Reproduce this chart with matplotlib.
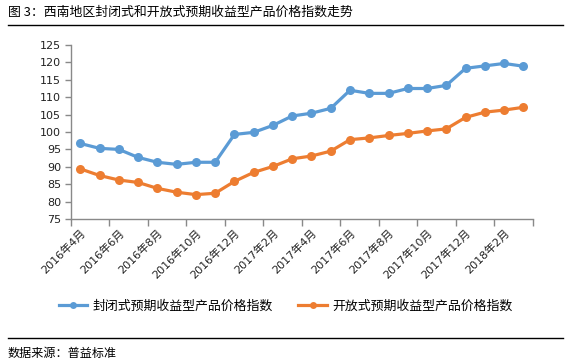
import matplotlib
matplotlib.use("Agg")
import matplotlib.pyplot as plt
from matplotlib.lines import Line2D

plt.rcParams['font.family'] = ['Noto Sans CJK SC', 'DejaVu Sans']

# ---------------- Data ----------------

months = [
    "2016年4月", "2016年5月", "2016年6月", "2016年7月", "2016年8月", "2016年9月",
    "2016年10月", "2016年11月", "2016年12月", "2017年1月", "2017年2月", "2017年3月",
    "2017年4月", "2017年5月", "2017年6月", "2017年7月", "2017年8月", "2017年9月",
    "2017年10月", "2017年11月", "2017年12月", "2018年1月", "2018年2月", "2018年3月",
]

closed_index = [
    96.7, 95.3, 95.0, 92.7, 91.3, 90.7, 91.3, 91.3, 99.3, 99.9, 101.9, 104.6,
    105.4, 106.8, 112.0, 111.1, 111.1, 112.5, 112.5, 113.4, 118.3, 119.0, 119.7, 118.9,
]

open_index = [
    89.4, 87.5, 86.2, 85.5, 83.8, 82.7, 82.0, 82.4, 85.8, 88.4, 90.1, 92.3,
    93.1, 94.5, 97.8, 98.3, 99.0, 99.6, 100.3, 100.9, 104.2, 105.7, 106.3, 107.1,
]

closed_name = "封闭式预期收益型产品价格指数"
open_name = "开放式预期收益型产品价格指数"

blue = "#5B9BD5"
orange = "#ED7D31"
tick_font = ['DejaVu Sans', 'Noto Sans CJK SC']

# ---------------- Figure ----------------

W, H = 571, 362
fig = plt.figure(figsize=(W / 100, H / 100), dpi=100)

ax = fig.add_axes([70.7 / W, 1 - 219 / H, (533 - 70.7) / W, (219 - 45) / H])

x = list(range(len(months)))

ax.plot(x, closed_index, color=blue, lw=2.3, marker="o", ms=6.5,
        markeredgewidth=0, solid_capstyle="round")
ax.plot(x, open_index, color=orange, lw=2.3, marker="o", ms=6.5,
        markeredgewidth=0, solid_capstyle="round")

ax.set_xlim(-0.5, len(months) - 0.5)
ax.set_ylim(75, 125)
ax.set_yticks(range(75, 126, 5))

# labels every other month, tick marks on category boundaries
ax.set_xticks(x[::2])
ax.set_xticklabels(months[::2], rotation=45, ha="right", va="top",
                   rotation_mode="anchor", fontsize=8, color="#222222",
                   family=tick_font)
ax.set_xticks([i - 0.5 for i in range(0, len(months) + 1, 2)], minor=True)
ax.tick_params(axis="x", which="major", length=0, pad=6)
ax.tick_params(axis="x", which="minor", length=5, color="#898989", width=1)
ax.tick_params(axis="y", length=4, color="#898989", width=1, labelsize=8,
               labelcolor="#222222", pad=3)
for lbl in ax.get_yticklabels():
    lbl.set_family(tick_font)

for side in ["top", "right"]:
    ax.spines[side].set_visible(False)
for side in ["left", "bottom"]:
    ax.spines[side].set_color("#898989")
    ax.spines[side].set_linewidth(1)

# ---------------- Legend ----------------

handles = [
    Line2D([], [], color=blue, lw=2.3, marker="o", ms=5, markeredgewidth=0),
    Line2D([], [], color=orange, lw=2.3, marker="o", ms=5, markeredgewidth=0),
]
fig.legend(handles, [closed_name, open_name], loc="center",
           bbox_to_anchor=(0.5, 1 - 306 / H), ncol=2, frameon=False,
           fontsize=9.3, handlelength=2.2, handletextpad=0.4, columnspacing=2.0)

# ---------------- Title / source ----------------

fig.text(8 / W, 1 - 12 / H, "图 3：西南地区封闭式和开放式预期收益型产品价格指数走势",
         fontsize=9.3, va="center", ha="left")
fig.add_artist(Line2D([8 / W, 563 / W], [1 - 25 / H, 1 - 25 / H],
                      color="black", lw=1))
fig.add_artist(Line2D([8 / W, 563 / W], [1 - 338 / H, 1 - 338 / H],
                      color="black", lw=1))
fig.text(8 / W, 1 - 353 / H, "数据来源：普益标准", fontsize=8.7,
         va="center", ha="left")

fig.savefig("out.png", dpi=100, facecolor="white")
